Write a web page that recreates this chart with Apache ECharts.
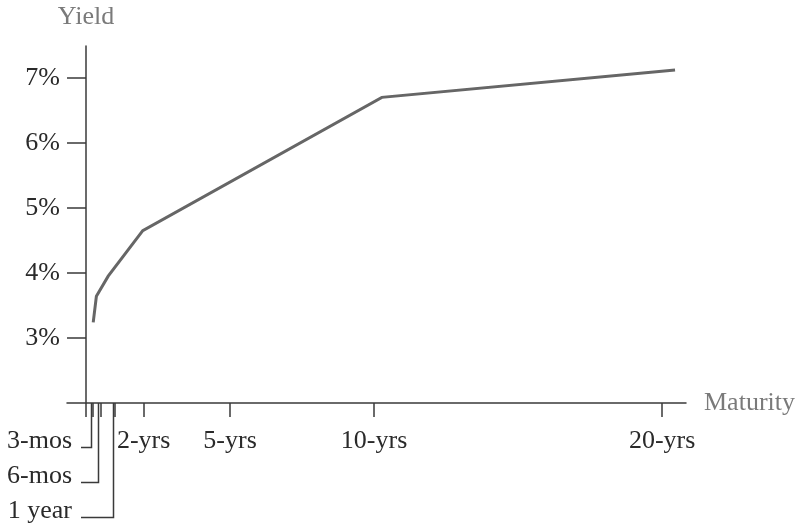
<!DOCTYPE html>
<html>
<head>
<meta charset="utf-8">
<script src="https://cdn.jsdelivr.net/npm/echarts@6/dist/echarts.min.js"></script>
<style>
html,body{margin:0;padding:0;background:#fff;}
#chart{width:795px;height:527px;}
</style>
</head>
<body>
<div id="chart"></div>
<script>
// Data
var curveMaturity = [0.25, 0.36, 0.77, 1.97, 10.27, 20.45];   // years
var curveYield    = [3.24, 3.64, 3.95, 4.65, 6.70, 7.12];     // percent

var yTickValues = [3, 4, 5, 6, 7];
var longTickValues = [2, 5, 10, 20];
var longTickLabels = ['2-yrs', '5-yrs', '10-yrs', '20-yrs'];
var shortTickValues = [0.25, 0.5, 1];
var shortTickLabels = ['3-mos', '6-mos', '1 year'];

var FONT = '"Liberation Serif", "Times New Roman", serif';
var AXIS_COLOR = '#3a3a3a';
var TEXT_COLOR = '#2a2a2a';
var NAME_COLOR = '#7a7a7a';
var FS = 26;

var chart = echarts.init(document.getElementById('chart'), null, {renderer: 'canvas'});

var lineData = curveMaturity.map(function (m, i) { return [m, curveYield[i]]; });
var shortData = shortTickValues.map(function (m, i) { return [m, 2, i]; });

var option = {
  backgroundColor: '#fff',
  animation: false,
  grid: { left: 67, right: 109, top: 46, bottom: 124, containLabel: false, outerBoundsMode: 'none' },
  xAxis: {
    type: 'value',
    min: -0.66,
    max: 20.83,
    name: 'Maturity',
    nameLocation: 'end',
    nameGap: 18,
    nameTextStyle: { color: NAME_COLOR, fontFamily: FONT, fontSize: FS },
    splitLine: { show: false },
    axisLine: { onZero: false, lineStyle: { color: AXIS_COLOR, width: 1.5 } },
    axisTick: {
      show: true, length: 14, inside: false,
      customValues: [0].concat(shortTickValues, longTickValues),
      lineStyle: { color: AXIS_COLOR, width: 1.5 }
    },
    axisLabel: {
      customValues: longTickValues,
      margin: 25,
      color: TEXT_COLOR, fontFamily: FONT, fontSize: FS,
      formatter: function (v) {
        var i = longTickValues.indexOf(v);
        return i >= 0 ? longTickLabels[i] : '';
      }
    }
  },
  yAxis: {
    type: 'value',
    min: 2,
    max: 7.49,
    name: 'Yield',
    nameLocation: 'end',
    nameGap: 16,
    nameTextStyle: { color: NAME_COLOR, fontFamily: FONT, fontSize: FS, align: 'center' },
    splitLine: { show: false },
    axisLine: { onZero: true, lineStyle: { color: AXIS_COLOR, width: 1.5 } },
    axisTick: {
      show: true, length: 19, inside: false,
      customValues: yTickValues,
      lineStyle: { color: AXIS_COLOR, width: 1.5 }
    },
    axisLabel: {
      customValues: yTickValues,
      margin: 7,
      color: TEXT_COLOR, fontFamily: FONT, fontSize: FS,
      formatter: function (v) { return v + '%'; }
    }
  },
  series: [
    {
      type: 'line',
      data: lineData,
      showSymbol: false,
      symbol: 'none',
      lineStyle: { color: '#666666', width: 3, join: 'miter' },
      z: 3
    },
    {
      type: 'custom',
      clip: false,
      silent: true,
      data: shortData,
      renderItem: function (params, api) {
        var idx = api.value(2);
        var p = api.coord([api.value(0), api.value(1)]);
        var axisX = api.coord([0, 2])[0];
        var drop = 44 + 35 * idx;
        var x = Math.round(p[0]) - 1.5;
        var y0 = p[1];
        var y1 = Math.round(y0 + drop) + 0.5;
        var xEnd = axisX - 5;
        return {
          type: 'group',
          children: [
            {
              type: 'polyline',
              shape: { points: [[x, y0], [x, y1], [xEnd, y1]] },
              style: { stroke: AXIS_COLOR, lineWidth: 1.5, fill: null }
            },
            {
              type: 'text',
              style: {
                text: shortTickLabels[idx],
                x: xEnd - 9,
                y: y1 - 6,
                align: 'right',
                verticalAlign: 'middle',
                fill: TEXT_COLOR,
                font: FS + 'px ' + FONT
              }
            }
          ]
        };
      }
    }
  ]
};

chart.setOption(option);
</script>
</body>
</html>
